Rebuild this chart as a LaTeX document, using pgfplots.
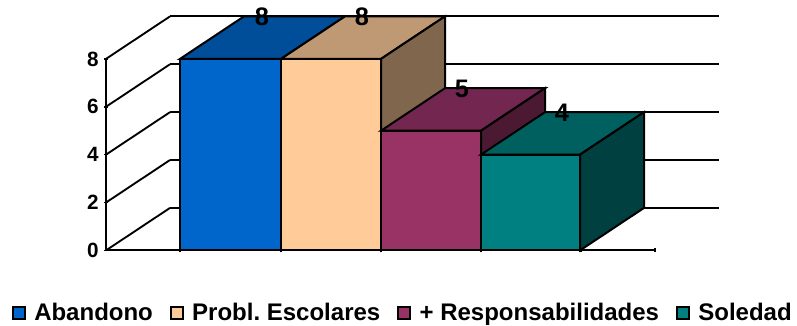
\documentclass[border=0pt]{standalone}
\usepackage{fontspec}
\setmainfont{Liberation Sans}
\usepackage{pgfplots}
\pgfplotsset{compat=1.18}
\frenchspacing

% Palette: front, top and side faces of each block
\definecolor{aFront}{HTML}{0066CC}\definecolor{aTop}{HTML}{004D99}
\definecolor{bFront}{HTML}{FFCC99}\definecolor{bTop}{HTML}{BF9973}\definecolor{bSide}{HTML}{80664D}
\definecolor{cFront}{HTML}{993366}\definecolor{cTop}{HTML}{732650}\definecolor{cSide}{HTML}{4C1933}
\definecolor{dFront}{HTML}{008080}\definecolor{dTop}{HTML}{006060}\definecolor{dSide}{HTML}{004040}

\pgfplotsset{
  face/.style={draw=black,line width=1.5pt,line join=miter,mark=none},
  wall/.style={draw=black,line width=1.4pt,mark=none,forget plot},
}

\begin{document}
\begin{tikzpicture}
\begin{axis}[
  x=0.75pt,y=17.955pt,
  xmin=106,xmax=655,ymin=0,ymax=8,
  axis x line=bottom,axis y line=left,
  axis line style={-,line width=1.5pt,black},
  tick style={black,line width=1.2pt},
  major tick length=3pt,
  xtick={180,281,381,481,581,655},xticklabels={},
  ytick={0,2,4,6,8},
  tick label style={font=\bfseries\fontsize{15.5}{17}\selectfont},
  /pgf/number format/assume math mode=true,
  yticklabel style={xshift=-0.5pt},
  clip=false,
  legend columns=4,
  legend cell align=left,
  legend style={draw=none,fill=none,at={(axis cs:403,-2.6)},anchor=center,
    font=\frenchspacing\bfseries\fontsize{18}{19}\selectfont,
    /tikz/every even column/.style={column sep=10.5pt},
    /tikz/every odd column/.style={column sep=4.5pt},inner sep=0pt},
  legend image code/.code={\draw[#1,line width=1.5pt] (0pt,-5pt) rectangle (9pt,4.5pt);},
]
% page extent
\path (axis cs:0,-3.07) rectangle (axis cs:797,10.46);

% back wall and left wall lines
\addplot[wall] coordinates {(170,1.775)(719,1.775)};
\addplot[wall] coordinates {(170,3.775)(719,3.775)};
\addplot[wall] coordinates {(170,5.775)(719,5.775)};
\addplot[wall] coordinates {(170,7.775)(719,7.775)};
\addplot[wall] coordinates {(170,9.775)(719,9.775)};
\addplot[wall] coordinates {(106,0)(170,1.775)};
\addplot[wall] coordinates {(106,2)(170,3.775)};
\addplot[wall] coordinates {(106,4)(170,5.775)};
\addplot[wall] coordinates {(106,6)(170,7.775)};
\addplot[wall] coordinates {(106,8)(170,9.775)};

% Abandono = 8
\addplot[face,fill=aTop,forget plot] coordinates {(180,8)(244,9.775)(345,9.775)(281,8)} --cycle;
\addplot[face,fill=aFront] coordinates {(180,0)(180,8)(281,8)(281,0)} --cycle;
\addlegendentry{Abandono}

% Probl. Escolares = 8
\addplot[face,fill=bTop,forget plot] coordinates {(281,8)(345,9.775)(445,9.775)(381,8)} --cycle;
\addplot[face,fill=bSide,forget plot] coordinates {(381,0)(445,1.775)(445,9.775)(381,8)} --cycle;
\addplot[face,fill=bFront] coordinates {(281,0)(281,8)(381,8)(381,0)} --cycle;
\addlegendentry{Probl. Escolares}

% + Responsabilidades = 5
\addplot[face,fill=cTop,forget plot] coordinates {(381,5)(445,6.775)(545,6.775)(481,5)} --cycle;
\addplot[face,fill=cSide,forget plot] coordinates {(481,0)(545,1.775)(545,6.775)(481,5)} --cycle;
\addplot[face,fill=cFront] coordinates {(381,0)(381,5)(481,5)(481,0)} --cycle;
\addlegendentry{+ Responsabilidades}

% Soledad = 4
\addplot[face,fill=dTop,forget plot] coordinates {(481,4)(545,5.775)(644,5.775)(580,4)} --cycle;
\addplot[face,fill=dSide,forget plot] coordinates {(580,0)(644,1.775)(644,5.775)(580,4)} --cycle;
\addplot[face,fill=dFront] coordinates {(481,0)(481,4)(580,4)(580,0)} --cycle;
\addlegendentry{Soledad}

% value labels, sitting on the back edge of each top face
\addplot[draw=none,mark=none,forget plot,point meta=explicit symbolic,
  nodes near coords,
  every node near coord/.style={anchor=center,black,inner sep=0pt,
    font=\bfseries\fontsize{19}{21}\selectfont}]
  coordinates {(262,9.75)[8] (362,9.75)[8] (462,6.75)[5] (562,5.75)[4]};
\end{axis}
\end{tikzpicture}
\end{document}
